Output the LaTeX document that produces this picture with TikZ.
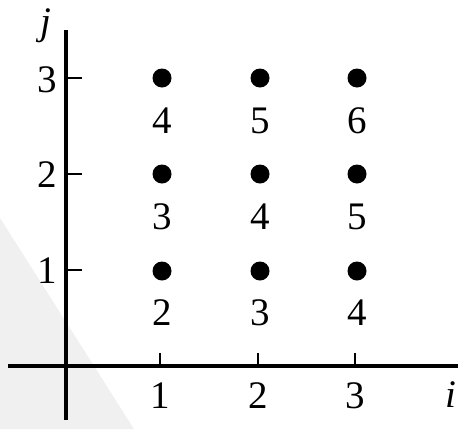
\documentclass[tikz,border=0pt]{standalone}
\usepackage{fontspec}
\setmainfont{Liberation Serif}
\begin{document}
\begin{tikzpicture}[x=1pt,y=-1pt,
  lab/.style={inner sep=0pt, anchor=base, font=\fontsize{39}{39}\selectfont},
  dotnode/.style={circle, fill=black, draw=none, inner sep=0pt, minimum size=19pt},
  axisline/.style={line width=3.6pt},
  tickline/.style={line width=2.8pt}]
\useasboundingbox (0,0) rectangle (471,429);
% faint watermark band
\fill[black!6] (0,218) -- (134,429) -- (0,429) -- cycle;
% axes
\coordinate (ytop) at (66,30);
\coordinate (ybot) at (66,420);
\coordinate (xl) at (8,366);
\coordinate (xr) at (458,366);
\draw[axisline] (ybot) -- (ytop);
\draw[axisline] (xl) -- (xr);
% y ticks
\foreach \n/\y/\b in {1/270/283, 2/174/187, 3/78/92} {
  \coordinate (yt\n a) at (66,\y);
  \coordinate (yt\n b) at (82,\y);
  \draw[tickline] (yt\n a) -- (yt\n b);
  \node[lab] (yl\n) at (47,\b) {\n};
}
% x ticks
\foreach \n/\x in {1/160, 2/258, 3/355} {
  \coordinate (xt\n a) at (\x,366);
  \coordinate (xt\n b) at (\x,353);
  \draw[tickline] (xt\n a) -- (xt\n b);
  \node[lab] (xl\n) at (\x,408) {\n};
}
\node[lab] (jlab) at (46,34) {\textit{j}};
\node[lab] (ilab) at (451,407) {\textit{i}};
% dots and labels
\foreach \i/\x in {1/162, 2/260, 3/357} {
  \foreach \j/\y/\b in {1/271/325, 2/174/229, 3/78/133} {
    \node[dotnode] (d\i\j) at (\x,\y) {};
    \pgfmathtruncatemacro{\s}{\i+\j}
    \node[lab] (s\i\j) at (\x,\b) {\s};
  }
}
\end{tikzpicture}
\end{document}
